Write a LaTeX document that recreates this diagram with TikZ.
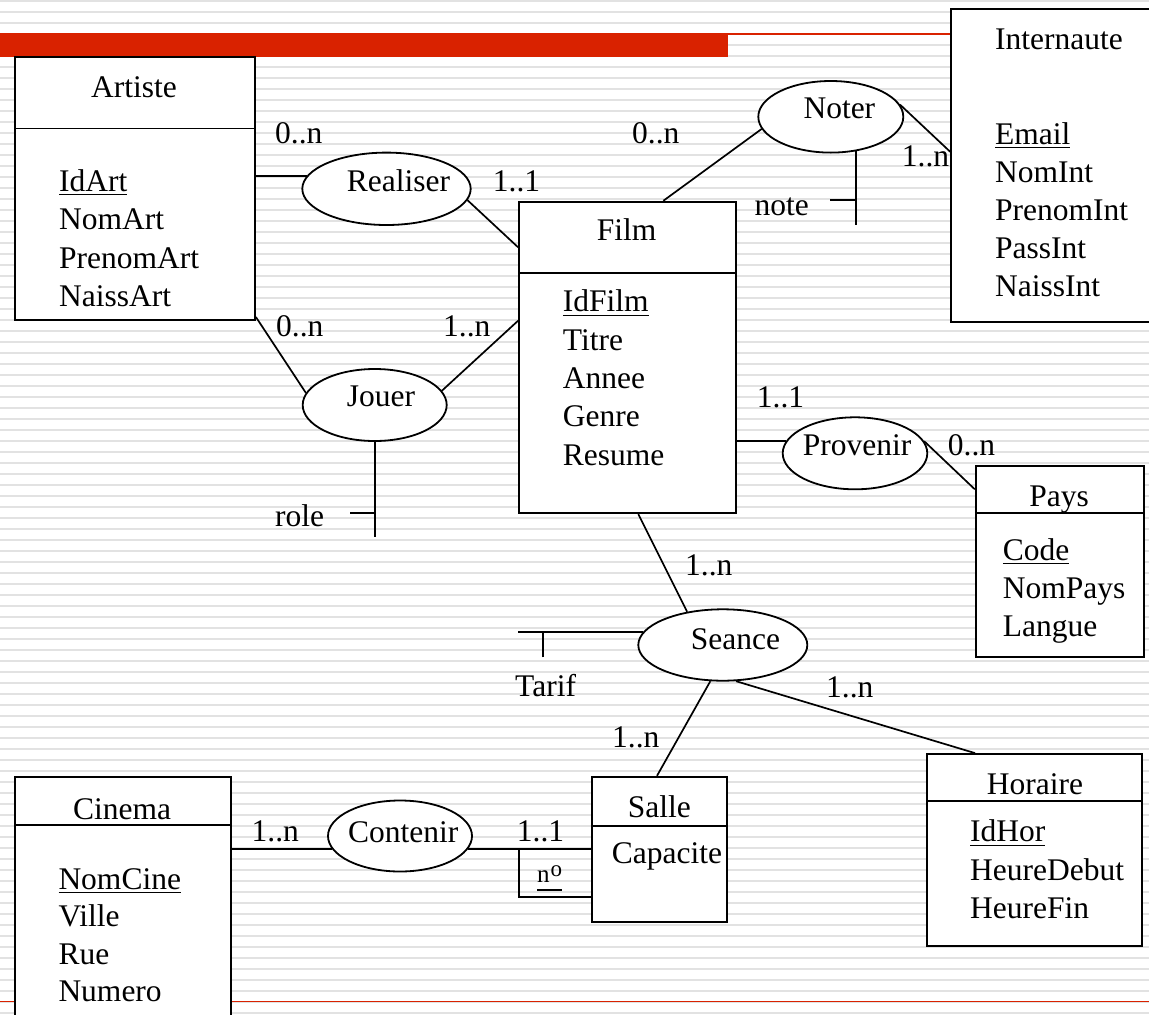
\documentclass[tikz,border=0pt]{standalone}
\usepackage{fontspec}
\setmainfont{Liberation Serif}
\usetikzlibrary{shapes.geometric,calc}
\definecolor{slidered}{RGB}{217,34,0}
\definecolor{stripegrey}{RGB}{226,226,226}
% underlined identifier (primary key)
\newcommand{\keyattr}[1]{\setbox0\hbox{#1}\rlap{\rule[-4.2pt]{\wd0}{1.4pt}}\box0}

\begin{document}
\begin{tikzpicture}[x=1pt,y=-1pt,
  every node/.style={font=\fontsize{31.5}{38.5}\selectfont, inner sep=0pt},
  entity/.style={draw, line width=1.8pt, fill=white, rectangle, inner sep=0pt},
  relation/.style={draw, line width=1.8pt, fill=white, ellipse, inner sep=0pt,
                   minimum width=144pt, minimum height=71pt},
  link/.style={line width=1.7pt},
  txt/.style={anchor=base west},
  enttitle/.style={anchor=base}]

\useasboundingbox (0,0) rectangle (1149,1015);
\clip (0,0) rectangle (1149,1015);

% slide background: white with thin grey stripes
\fill[white] (0,0) rectangle (1149,1015);
\foreach \k in {0,...,92}
  \fill[stripegrey] (0,{\k*11-0.2}) rectangle (1149,{\k*11+1.8});

% red title bar and rules
\fill[slidered] (0,33.3) rectangle (728,57);
\draw[slidered, line width=1.2pt] (728,33.9) -- (951,33.9);
\draw[slidered, line width=1pt] (0,1001.5) -- (1149,1001.5);

% ---------- entities ----------
\node[entity, minimum width=240pt, minimum height=263pt] (artiste) at (135,188.5) {};
\draw[line width=1.8pt] (artiste.west |- 0,128.5) -- (artiste.east |- 0,128.5);
\node[enttitle] (artiste-t) at (134,97) {Artiste};
\foreach \t [count=\i] in {\keyattr{IdArt},NomArt,PrenomArt,NaissArt}
  \node[txt] (artiste-a\i) at (59,{191+38.5*(\i-1)}) {\t};

\node[entity, minimum width=216.7pt, minimum height=311.6pt] (film) at (627.35,357.5) {};
\draw[line width=1.8pt] (film.west |- 0,272.7) -- (film.east |- 0,272.7);
\node[enttitle] (film-t) at (626.7,240.7) {Film};
\foreach \t [count=\i] in {\keyattr{IdFilm},Titre,Annee,Genre,Resume}
  \node[txt] (film-a\i) at (562.7,{311.7+38.33*(\i-1)}) {\t};

\node[entity, minimum width=199pt, minimum height=312.4pt] (internaute) at (1050.5,165.5) {};
\node[txt] (internaute-t) at (995,49.3) {Internaute};
\foreach \t [count=\i] in {\keyattr{Email},NomInt,PrenomInt,PassInt,NaissInt}
  \node[txt] (internaute-a\i) at (995,{144+38.17*(\i-1)}) {\t};

\node[entity, minimum width=168.3pt, minimum height=191.3pt] (pays) at (1059.85,561.65) {};
\draw[line width=1.8pt] (pays.west |- 0,513.3) -- (pays.east |- 0,513.3);
\node[enttitle] (pays-t) at (1059,506) {Pays};
\foreach \t [count=\i] in {\keyattr{Code},NomPays,Langue}
  \node[txt] (pays-a\i) at (1002.7,{560+38.33*(\i-1)}) {\t};

\node[entity, minimum width=215pt, minimum height=192pt] (horaire) at (1034.8,850) {};
\draw[line width=1.8pt] (horaire.west |- 0,801) -- (horaire.east |- 0,801);
\node[enttitle] (horaire-t) at (1035,794) {Horaire};
\foreach \t [count=\i] in {\keyattr{IdHor},HeureDebut,HeureFin}
  \node[txt] (horaire-a\i) at (970,{841.7+38.33*(\i-1)}) {\t};

\node[entity, minimum width=135.3pt, minimum height=145pt] (salle) at (659.35,849.2) {};
\draw[line width=1.8pt] (salle.west |- 0,825.7) -- (salle.east |- 0,825.7);
\node[enttitle] (salle-t) at (659.3,817) {Salle};
\node[txt] (salle-a1) at (611.7,863.3) {Capacite};

\node[entity, minimum width=215.7pt, minimum height=262.7pt] (cinema) at (122.85,908.65) {};
\draw[line width=1.8pt] (cinema.west |- 0,825) -- (cinema.east |- 0,825);
\node[enttitle] (cinema-t) at (122,819) {Cinema};
\foreach \t [count=\i] in {\keyattr{NomCine},Ville,Rue,Numero}
  \node[txt] (cinema-a\i) at (58.3,{889.2+37.5*(\i-1)}) {\t};

% ---------- relationships ----------
\node[relation, minimum width=168.4pt, minimum height=72.4pt] (realiser) at (386.5,188.8) {};
\node[relation, minimum height=72pt] (jouer) at (374.7,405) {};
\node[relation, minimum width=145pt, minimum height=71.6pt] (noter) at (830.8,116.8) {};
\node[relation, minimum width=144.6pt, minimum height=72pt] (provenir) at (855,453.3) {};
\node[relation, minimum width=169pt, minimum height=71.4pt] (seance) at (722.8,645) {};
\node[relation] (contenir) at (400,836) {};

\node[txt] (realiser-t) at (346.7,191.7) {Realiser};
\node[txt] (jouer-t) at (346.7,406.7) {Jouer};
\node[txt] (noter-t) at (803.3,118.3) {Noter};
\node[txt] (provenir-t) at (802.7,455) {Provenir};
\node[txt] (seance-t) at (690.7,649.3) {Seance};
\node[txt] (contenir-t) at (348,842) {Contenir};

% ---------- connectors ----------
\draw[link] (realiser.171.3) -- (realiser.171.3 -| artiste.east);
\draw[link] (realiser.-8.5) -- (film.west |- 0,247.3);
\draw[link] (artiste.east |- 0,317) -- (jouer.170.3);
\draw[link] (jouer.12.9) -- (film.west |- 0,320.7);
\draw[link] (noter.190.4) -- (film.north -| 663.3,0);
\draw[link] (noter.10.7) -- (internaute.west |- 0,151.7);
\draw[link] (provenir.170.4) -- (provenir.170.4 -| film.east);
\draw[link] (provenir.10.5) -- (pays.west |- 0,489.3);
\draw[link] (film.south -| 638.3,0) -- (seance.137.6);
\draw[link] (seance.251.1) -- (salle.north -| 657,0);
\draw[link] (seance.-70.9) -- (horaire.north -| 975,0);
\draw[link] (contenir.191.3) -- (contenir.191.3 -| cinema.east);
\draw[link] (contenir.-11.3) -- (contenir.-11.3 -| salle.west);

% attributes of relationships
\coordinate (roleend) at (375,536.7);
\coordinate (roletick) at (350,512.7);
\draw[link] (jouer.south) -- (jouer.south |- roleend);
\draw[link] (roletick) -- (roletick -| jouer.south);

\coordinate (noteend) at (855,225);
\coordinate (notetick) at (830,200);
\draw[link] (noter.-54.3) -- (noter.-54.3 |- noteend);
\draw[link] (notetick) -- (notetick -| noteend);

\coordinate (tarifend) at (518.3,632.7);
\coordinate (tariftick) at (542.7,657.3);
\draw[link] (seance.171.2) -- (seance.171.2 -| tarifend);
\draw[link] (tariftick) -- (tariftick |- seance.171.2);

% relative identifier of Salle
\coordinate (weakcorner) at (519,896.7);
\draw[link] (weakcorner |- contenir.-11.3) -- (weakcorner) -- (weakcorner -| salle.west);

% ---------- labels ----------
\node[txt] (c1) at (275,143.3) {0..n};
\node[txt] (c2) at (492.7,191.7) {1..1};
\node[txt] (c3) at (632,143.3) {0..n};
\node[txt] (c4) at (901.7,166.7) {1..n};
\node[txt] (c5) at (276,336) {0..n};
\node[txt] (c6) at (443,336) {1..n};
\node[txt] (c7) at (756.7,407) {1..1};
\node[txt] (c8) at (947.7,455) {0..n};
\node[txt] (c9) at (685,575) {1..n};
\node[txt] (c10) at (612,747) {1..n};
\node[txt] (c11) at (826,697) {1..n};
\node[txt] (c12) at (251.5,841) {1..n};
\node[txt] (c13) at (516.7,841) {1..1};

\node[txt] (note-t) at (754.3,215) {note};
\node[txt] (role-t) at (275,526.7) {role};
\node[txt] (tarif-t) at (515,696) {Tarif};
\node[txt, font=\fontsize{25}{29}\selectfont] (numero-t) at (537,882.5)
  {\setbox0\hbox{n\kern1pt\raisebox{6.5pt}{\fontsize{23}{27}\selectfont o}}\rlap{\rule[-8pt]{\wd0}{1.4pt}}\box0};
\end{tikzpicture}
\end{document}
